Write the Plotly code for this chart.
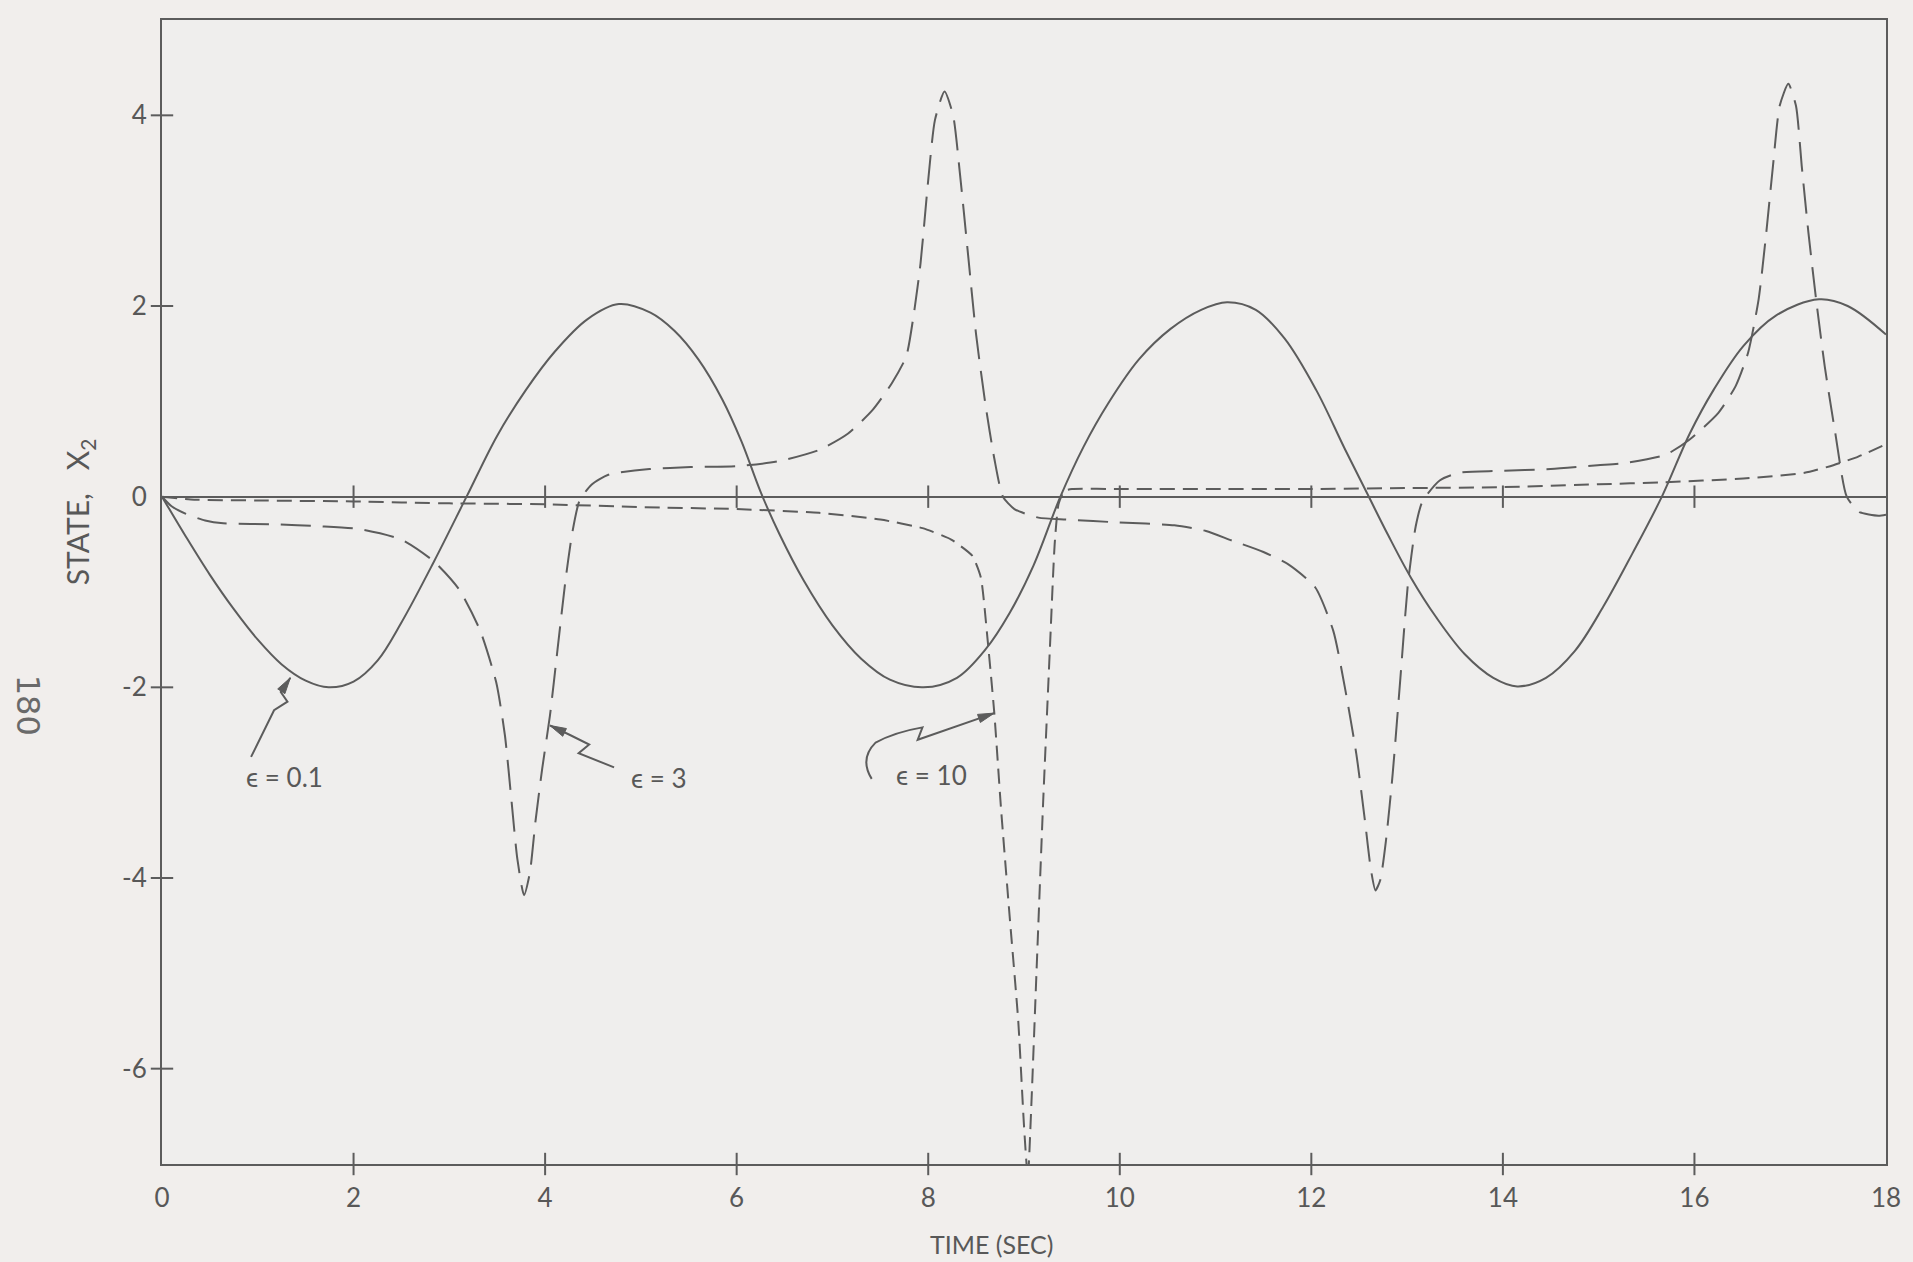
import math
import plotly.graph_objects as go

# ---------------- data ----------------
# eps = 0.1 (solid)
t_e01 = [0, 0.25, 0.5, 0.75, 1.0, 1.25, 1.5, 1.74, 2.0, 2.25, 2.5, 2.84, 3.18,
         3.5, 3.8, 4.1, 4.44, 4.77, 5.1, 5.35, 5.6, 5.85, 6.05, 6.25, 6.45, 6.7, 7.0,
         7.3, 7.6, 7.95, 8.3, 8.6, 8.85, 9.1, 9.38, 9.62, 9.88, 10.2, 10.53, 10.85, 11.12,
         11.42, 11.72, 12.05, 12.35, 12.59, 12.8, 13.04, 13.3, 13.6, 13.9, 14.15, 14.45,
         14.75, 15.05, 15.35, 15.66, 15.95, 16.2, 16.51, 16.85, 17.3, 17.6, 18.0]
v_e01 = [0, -0.42, -0.82, -1.18, -1.5, -1.76, -1.93, -2.0, -1.94, -1.72, -1.32, -0.68, 0.0,
         0.64, 1.12, 1.52, 1.86, 2.02, 1.93, 1.74, 1.44, 1.02, 0.58, 0.05, -0.4, -0.88, -1.35,
         -1.7, -1.92, -2.0, -1.9, -1.6, -1.22, -0.72, 0.0, 0.52, 0.98, 1.44, 1.76, 1.96, 2.04,
         1.96, 1.66, 1.12, 0.5, 0.02, -0.4, -0.85, -1.26, -1.65, -1.9, -1.99, -1.9,
         -1.62, -1.15, -0.6, 0.0, 0.66, 1.12, 1.58, 1.9, 2.07, 2.0, 1.7]

# eps = 3 (long dashes)
t_e3 = [0, 0.1, 0.25, 0.45, 0.64, 1.2, 1.63, 2.06, 2.5, 2.84, 3.1, 3.32, 3.49, 3.58, 3.65,
        3.71, 3.78, 3.84, 3.9, 3.97, 4.05, 4.13, 4.21, 4.28, 4.36, 4.49, 4.66, 5.09, 5.52,
        6.0, 6.43, 6.86, 7.16, 7.42, 7.62, 7.77, 7.85, 7.92, 8.0, 8.07, 8.17, 8.26, 8.33,
        8.41, 8.5, 8.6, 8.69, 8.78, 8.9, 9.15, 9.45, 9.98, 10.57, 10.9, 11.17, 11.5, 11.76,
        12.04, 12.23, 12.35, 12.47, 12.56, 12.62, 12.67, 12.72, 12.78, 12.85, 12.93, 13.01,
        13.09, 13.16, 13.34, 13.54, 13.95, 14.5, 14.99, 15.25, 15.7, 15.95, 16.25, 16.43,
        16.56, 16.67, 16.75, 16.82, 16.89, 16.98, 17.06, 17.12, 17.19, 17.27, 17.36,
        17.47, 17.59, 17.72, 17.92, 18.0]
v_e3 = [0, -0.1, -0.18, -0.25, -0.28, -0.29, -0.31, -0.34, -0.45, -0.68, -0.97, -1.4, -1.95, -2.5, -3.2,
        -3.8, -4.18, -3.95, -3.4, -2.85, -2.3, -1.6, -0.9, -0.4, -0.04, 0.13, 0.23, 0.29, 0.31,
        0.32, 0.37, 0.49, 0.66, 0.91, 1.19, 1.47, 1.92, 2.45, 3.32, 3.95, 4.25, 4.0, 3.4,
        2.6, 1.7, 0.95, 0.4, 0.0, -0.13, -0.22, -0.24, -0.27, -0.3, -0.36, -0.46, -0.58, -0.71,
        -0.95, -1.41, -2.0, -2.7, -3.4, -3.9, -4.13, -4.02, -3.6, -2.9, -1.9, -0.9,
        -0.31, -0.05, 0.17, 0.25, 0.27, 0.29, 0.33, 0.35, 0.44, 0.6, 0.88, 1.16,
        1.51, 2.07, 2.77, 3.47, 4.1, 4.33, 4.1, 3.47, 2.77, 2.07, 1.37,
        0.67, 0.0, -0.16, -0.2, -0.19]

# eps = 10 (short dashes)
t_e10 = [0, 0.3, 1.0, 2.0, 3.0, 4.0, 5.0, 6.0, 6.86, 7.5, 7.94, 8.24, 8.46, 8.55, 8.62,
         8.69, 8.76, 8.85, 8.94, 9.0, 9.04, 9.08, 9.13, 9.2, 9.27, 9.32, 9.36, 9.42, 9.5,
         10.0, 11.0, 12.0, 13.0, 14.0, 15.0, 15.66, 16.51, 17.15, 17.45, 17.71, 18.0]
v_e10 = [0, -0.03, -0.04, -0.05, -0.07, -0.08, -0.11, -0.13, -0.17, -0.24, -0.33, -0.45, -0.62, -0.85, -1.5,
         -2.27, -3.27, -4.4, -5.5, -6.6, -7.15, -6.3, -5.0, -3.2, -1.6, -0.5, -0.08, 0.06, 0.08,
         0.08, 0.08, 0.08, 0.09, 0.1, 0.13, 0.15, 0.19, 0.25, 0.33, 0.42, 0.55]

x_ticks = [0, 2, 4, 6, 8, 10, 12, 14, 16, 18]
y_ticks = [-6, -4, -2, 0, 2, 4]
y_tick_text = ["-6", "-4", "-2", "0", "2", "4"]
inner_x_ticks = [2, 4, 6, 8, 10, 12, 14, 16]
inner_y_ticks = [-6, -4, -2, 2, 4]

X_TITLE = "TIME (SEC)"
Y_TITLE = "STATE,   X<sub>2</sub>"

# ---------------- style ----------------
LINE = "#5c5c5c"
TEXT = "#585858"
PAPER = "#f1eeec"
FONT = "Lato, 'DejaVu Sans', sans-serif"
X_MIN, X_MAX, Y_MIN, Y_MAX = 0, 18, -7, 5

fig = go.Figure()

common = dict(mode="lines", hoverinfo="skip", showlegend=False, cliponaxis=True)
fig.add_trace(go.Scatter(x=t_e01, y=v_e01,
                         line=dict(color=LINE, width=2, shape="spline", smoothing=1.0), **common))
fig.add_trace(go.Scatter(x=t_e3, y=v_e3,
                         line=dict(color=LINE, width=2, dash="30px,12px", shape="spline", smoothing=0.6),
                         **common))
fig.add_trace(go.Scatter(x=t_e10, y=v_e10,
                         line=dict(color=LINE, width=2, dash="15px,8px", shape="spline", smoothing=0.5),
                         **common))

# crossing tick marks: on the zero line, on the bottom axis and on the left axis
tick_marker_v = dict(symbol="line-ns", size=16, line=dict(width=2, color=LINE))
tick_marker_h = dict(symbol="line-ew", size=16, line=dict(width=2, color=LINE))
fig.add_trace(go.Scatter(x=inner_x_ticks, y=[0] * len(inner_x_ticks), mode="markers",
                         marker=tick_marker_v, hoverinfo="skip", showlegend=False, cliponaxis=False))
fig.add_trace(go.Scatter(x=inner_x_ticks, y=[Y_MIN] * len(inner_x_ticks), mode="markers",
                         marker=tick_marker_v, hoverinfo="skip", showlegend=False, cliponaxis=False))
fig.add_trace(go.Scatter(x=[X_MIN] * len(inner_y_ticks), y=inner_y_ticks, mode="markers",
                         marker=tick_marker_h, hoverinfo="skip", showlegend=False, cliponaxis=False))


# ---------------- labels with zig-zag arrows ----------------
def head_path(tip, tail, length=0.17, half_w=0.045):
    dx, dy = tip[0] - tail[0], tip[1] - tail[1]
    n = math.hypot(dx, dy)
    ux, uy = dx / n, dy / n
    bx, by = tip[0] - ux * length, tip[1] - uy * length
    p1 = (bx - uy * half_w, by + ux * half_w)
    p2 = (bx + uy * half_w, by - ux * half_w)
    return f"M {tip[0]} {tip[1]} L {p1[0]} {p1[1]} L {p2[0]} {p2[1]} Z"


# (tip, tail-start, rest of zig-zag path)
arrows = [
    ((1.34, -1.90), (1.24, -2.05), "L 1.31 -2.15 L 1.17 -2.24 L 0.93 -2.73"),
    ((4.05, -2.40), (4.26, -2.50), "L 4.46 -2.60 L 4.35 -2.69 L 4.72 -2.84"),
    ((8.69, -2.27), (7.89, -2.55), "L 7.94 -2.42 Q 7.65 -2.47 7.45 -2.58 Q 7.28 -2.75 7.41 -2.96"),
]
shapes = []
for tip, tail, rest in arrows:
    shapes.append(dict(type="path", xref="x", yref="y", line=dict(color=LINE, width=2),
                       path=f"M {tip[0]} {tip[1]} L {tail[0]} {tail[1]} {rest}"))
    shapes.append(dict(type="path", xref="x", yref="y", line=dict(color=LINE, width=1),
                       fillcolor=LINE, path=head_path(tip, tail)))

ann_font = dict(family=FONT, size=26, color=TEXT)
annotations = [
    dict(x=1.28, y=-2.94, text="ϵ = 0.1", showarrow=False, font=ann_font),
    dict(x=5.19, y=-2.95, text="ϵ = 3", showarrow=False, font=ann_font),
    dict(x=8.03, y=-2.92, text="ϵ = 10", showarrow=False, font=ann_font),
    # axis titles and page number
    dict(x=-0.048, y=0.57, xref="paper", yref="paper", xanchor="center", yanchor="middle",
         text=Y_TITLE, textangle=-90, showarrow=False,
         font=dict(family=FONT, size=30, color=TEXT)),
    dict(x=0.481, y=-0.07, xref="paper", yref="paper", xanchor="center", yanchor="middle",
         text=X_TITLE, showarrow=False, font=dict(family=FONT, size=25, color=TEXT)),
    dict(x=-0.078, y=0.401, xref="paper", yref="paper", xanchor="center", yanchor="middle",
         text="180", textangle=90, showarrow=False,
         font=dict(family="DejaVu Sans", size=32, color="#6a6a6a")),
]

fig.update_layout(
    width=1913, height=1262,
    margin=dict(l=162, r=16, t=20, b=98),
    paper_bgcolor=PAPER,
    plot_bgcolor="#efeeed",
    font=dict(family=FONT, size=26, color=TEXT),
    annotations=annotations,
    shapes=shapes,
    hovermode=False,
)
fig.update_xaxes(range=[X_MIN, X_MAX], tickvals=x_ticks, ticks="", showgrid=False,
                 zeroline=False, showline=True, mirror=True, linecolor=LINE, linewidth=2,
                 ticklabelstandoff=10, tickfont=dict(family=FONT, size=26, color=TEXT))
fig.update_yaxes(range=[Y_MIN, Y_MAX], tickvals=y_ticks, ticktext=y_tick_text, ticks="",
                 showgrid=False, zeroline=True, zerolinecolor=LINE, zerolinewidth=2,
                 showline=True, mirror=True, linecolor=LINE, linewidth=2,
                 ticklabelstandoff=8, tickfont=dict(family=FONT, size=26, color=TEXT))

fig.write_html(
    "out.html",
    config={"displayModeBar": False},
    post_script="document.body.style.margin='0px';"
                "document.body.style.overflow='hidden';"
                "document.body.style.background='" + PAPER + "';",
)
